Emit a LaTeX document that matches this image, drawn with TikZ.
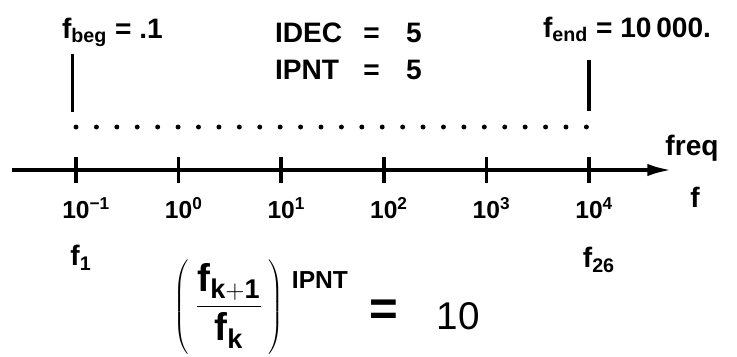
\documentclass[tikz,border=0pt]{standalone}
\usepackage{fontspec}
\setmainfont{Liberation Sans}
\usetikzlibrary{arrows.meta,positioning}

\begin{document}
\begin{tikzpicture}[
  x=0.02cm, y=-0.02cm,
  hand/.style={font=\fontsize{16}{19}\selectfont\bfseries, inner sep=1pt},
  ticklbl/.style={font=\fontsize{14}{16}\selectfont\bfseries, inner sep=0pt, anchor=north},
  decade/.style={fill=black, minimum width=2pt, minimum height=14.7pt,
                 inner sep=0pt, outer sep=0pt},
  stem/.style={line width=2pt},
  freqaxis/.style={line width=2.2pt, -{Latex[length=14pt,width=7pt]}},
  dotrow/.style={line width=2.8pt, line cap=round, dash pattern=on 0pt off 11.62pt},
]
\useasboundingbox (0,0) rectangle (737,356);

% Frequency axis
\coordinate (axstart) at (12,170);
\coordinate (axend) at (672,170);
\draw[freqaxis] (axstart) -- (axend);

% Decade ticks
\node[decade] (t0) at (76,170) {};
\node[decade] (t1) at (178.6,170) {};
\node[decade] (t2) at (281.2,170) {};
\node[decade] (t3) at (383.8,170) {};
\node[decade] (t4) at (486.4,170) {};
\node[decade] (t5) at (589,170) {};

% Decade labels
\node[ticklbl, below=8pt of t0] (l0) {10\rlap{\textsuperscript{−1}}};
\node[ticklbl, below=8pt of t1] (l1) {10\rlap{\textsuperscript{0}}};
\node[ticklbl, below=8pt of t2] (l2) {10\rlap{\textsuperscript{1}}};
\node[ticklbl, below=8pt of t3] (l3) {10\rlap{\textsuperscript{2}}};
\node[ticklbl, below=8pt of t4] (l4) {10\rlap{\textsuperscript{3}}};
\node[ticklbl, below=8pt of t5] (l5) {10\rlap{\textsuperscript{4}}};

% Sample points (26 of them)
\coordinate (d1) at (76,127);
\coordinate (d26) at (589,127);
\draw[dotrow] (d1) -- (d26);

% Start / end frequencies
\node[hand, anchor=base west] (fbeg) at (60,38) {f\textsubscript{beg} = .1};
\node[hand, anchor=base west] (fend) at (541,37) {f\textsubscript{end} = 10\,000.};
\draw[stem, shorten <=3pt, shorten >=8.5pt] ([xshift=-2pt]fbeg.south -| d1) -- ([xshift=-2pt]d1);
\draw[stem, shorten <=9pt, shorten >=9pt] (fend.south -| d26) -- (d26);

% Sweep parameters
\node[hand, anchor=west] (params) at (273,54)
  {\begin{tabular}{@{}l@{\hspace{12pt}}c@{\hspace{15pt}}c@{}}
     IDEC & = & 5\\[2pt]
     IPNT & = & 5
   \end{tabular}};

% Axis name
\node[hand] (freq) at (692,148) {freq};
\node[hand] (fsym) at (695,197) {f};

% First and last sample
\node[hand] (f1) at (81,258) {f\textsubscript{1}};
\node[hand] (f26) at (599,260) {f\textsubscript{26}};

% Ratio per decade
\node[inner sep=0pt, font=\fontsize{22}{26}\selectfont] (ratio) at (229,307)
  {$\left(\rule[-22pt]{0pt}{33pt}\mkern3mu\displaystyle
     \frac{\mathbf{f}_{\mathbf{k+1}}}{\mathbf{f}_{\mathbf{k}}}\mkern3mu\right)$};
\node[inner sep=0pt, font=\fontsize{14}{16}\selectfont\bfseries] (ipnt) at (320,280) {IPNT};
\node[inner sep=0pt, font=\fontsize{28}{30}\selectfont\bfseries] (eq) at (384,313) {=};
\node[inner sep=0pt, font=\fontsize{22}{26}\selectfont] (ten) at (458,316) {10};

\end{tikzpicture}
\end{document}
